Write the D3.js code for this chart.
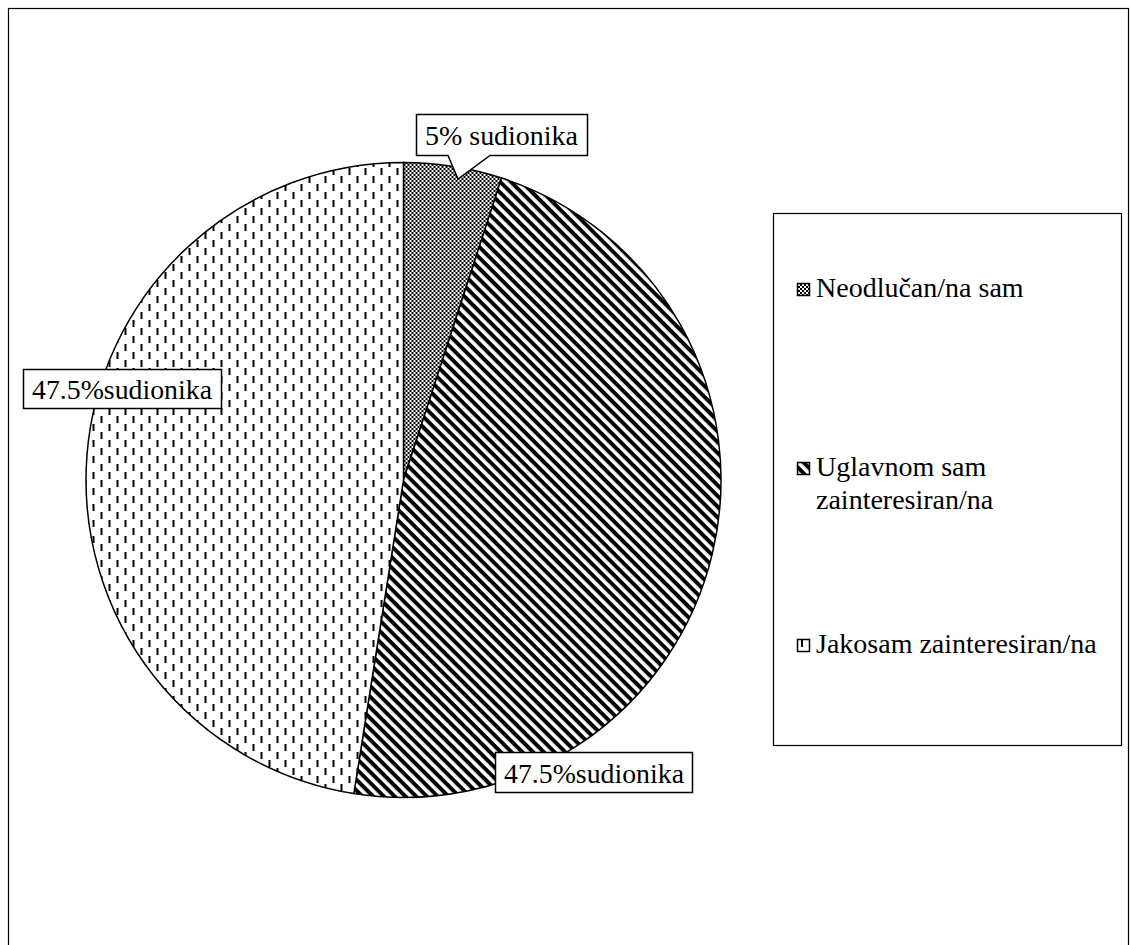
<!DOCTYPE html>
<html><head><meta charset="utf-8">
<script src="https://cdn.jsdelivr.net/npm/d3@7/dist/d3.min.js"></script>
<style>body{margin:0;background:#fff}svg{display:block}</style>
</head><body>
<script>
const categories = ["Neodlučan/na sam", "Uglavnom sam zainteresiran/na", "Jakosam zainteresiran/na"];
const legendLines = [["Neodlučan/na sam"], ["Uglavnom sam", "zainteresiran/na"], ["Jakosam zainteresiran/na"]];
const values = [5, 47.5, 47.5];
const labels = ["5% sudionika", "47.5%sudionika", "47.5%sudionika"];
const patterns = ["checker", "diag", "dash"];

const W = 1130, H = 945;
const svg = d3.select("body").append("svg").attr("width", W).attr("height", H);
const font = "Liberation Serif, Tinos, Times New Roman, Times, DejaVu Serif, serif";

const defs = svg.append("defs");
const pc = defs.append("pattern").attr("id", "checker").attr("patternUnits", "userSpaceOnUse").attr("width", 4).attr("height", 4);
pc.append("rect").attr("width", 4).attr("height", 4).attr("fill", "#fff");
pc.append("rect").attr("x", 0).attr("y", 0).attr("width", 2).attr("height", 2).attr("fill", "#000");
pc.append("rect").attr("x", 2).attr("y", 2).attr("width", 2).attr("height", 2).attr("fill", "#000");
const pd = defs.append("pattern").attr("id", "diag").attr("patternUnits", "userSpaceOnUse").attr("width", 7.6).attr("height", 7.6).attr("patternTransform", "rotate(45)");
pd.append("rect").attr("width", 7.6).attr("height", 7.6).attr("fill", "#fff");
pd.append("rect").attr("width", 7.6).attr("height", 4).attr("fill", "#000");
const pv = defs.append("pattern").attr("id", "dash").attr("patternUnits", "userSpaceOnUse").attr("width", 16).attr("height", 16);
pv.append("rect").attr("width", 16).attr("height", 16).attr("fill", "#fff");
pv.append("rect").attr("x", 1).attr("y", 0).attr("width", 2).attr("height", 7).attr("fill", "#000");
pv.append("rect").attr("x", 9).attr("y", 8).attr("width", 2).attr("height", 7).attr("fill", "#000");

svg.append("rect").attr("x", 8.5).attr("y", 8.5).attr("width", 1120).attr("height", 1000)
  .attr("fill", "none").attr("stroke", "#000").attr("stroke-width", 1.2);

const cx = 403.5, cy = 480, r = 317.5;
const pie = d3.pie().sort(null).value(d => d)(values);
const arc = d3.arc().innerRadius(0).outerRadius(r);
const g = svg.append("g").attr("transform", `translate(${cx},${cy})`);
g.selectAll("path").data(pie).join("path")
  .attr("d", arc)
  .attr("fill", (d, i) => `url(#${patterns[i]})`)
  .attr("stroke", "#000").attr("stroke-width", 1.5);

const fs = 28;
function labelBox(x, y, w, h, text, tx, ty, tw, wedge) {
  let p;
  if (wedge) {
    p = `M${x},${y}H${x + w}V${y + h}H${wedge[2]}L${wedge[0]},${wedge[1]}L${wedge[3]},${y + h}H${x}Z`;
  } else {
    p = `M${x},${y}H${x + w}V${y + h}H${x}Z`;
  }
  svg.append("path").attr("d", p).attr("fill", "#fff").attr("stroke", "#000").attr("stroke-width", 1.5);
  svg.append("text").attr("x", tx).attr("y", ty).attr("font-family", font).attr("font-size", fs)
    .attr("fill", "#000").attr("textLength", tw).attr("lengthAdjust", "spacingAndGlyphs").text(text);
}
labelBox(416.5, 114.5, 171, 41, labels[0], 425, 145, 153, [458, 179, 490, 448]);
labelBox(23.5, 369.5, 198, 39, labels[2], 32, 399, 180);
labelBox(495.5, 752.5, 197, 40, labels[1], 504, 783, 180);

svg.append("rect").attr("x", 773.5).attr("y", 213.5).attr("width", 348).attr("height", 532)
  .attr("fill", "#fff").attr("stroke", "#000").attr("stroke-width", 1.2);
const legY = [297, 476, 653];
const legW = [[207], [137, 172], [283]];
categories.forEach((c, i) => {
  svg.append("rect").attr("x", 797.5).attr("y", legY[i] - 13.5).attr("width", 12).attr("height", 12)
    .attr("fill", `url(#${patterns[i]})`).attr("stroke", "#000").attr("stroke-width", 1.5);
  legendLines[i].forEach((ln, j) => {
    svg.append("text").attr("x", 816).attr("y", legY[i] + j * 33).attr("font-family", font)
      .attr("font-size", fs).attr("fill", "#000").text(ln);
  });
});
</script>
</body></html>
